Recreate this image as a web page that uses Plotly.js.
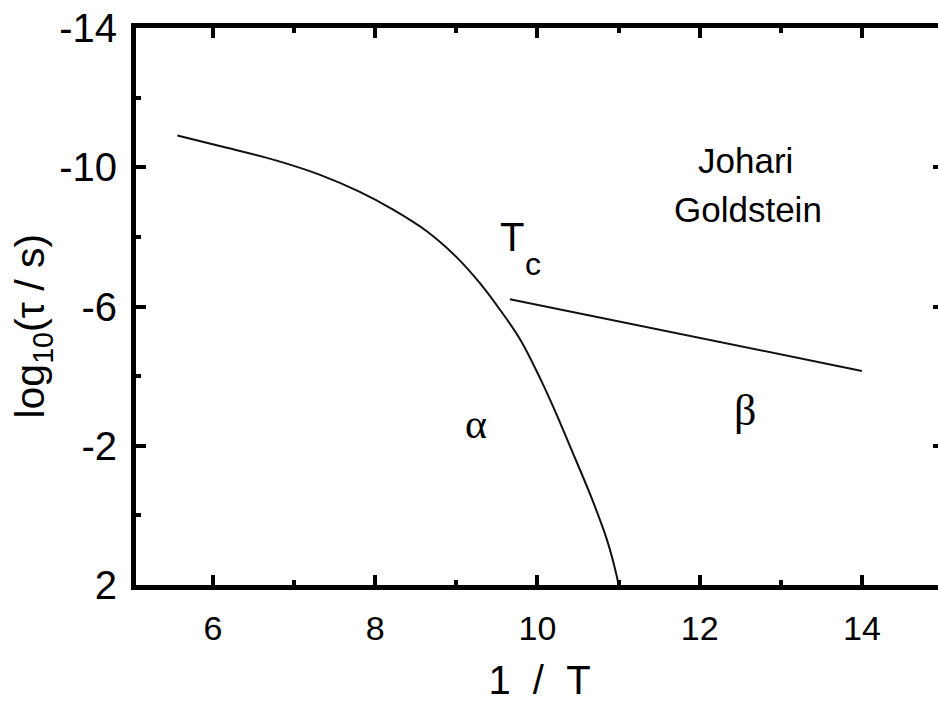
<!DOCTYPE html>
<html>
<head>
<meta charset="utf-8">
<script src="https://cdn.plot.ly/plotly-3.0.1.min.js"></script>
<style>
  html, body { margin: 0; padding: 0; overflow: hidden; background: #fff; }
  #chart { width: 946px; height: 704px; }
</style>
</head>
<body>
<div id="chart"></div>
<script>
// Alpha relaxation curve: log10(tau) versus 1/T
const alphaX = [5.56, 6.17, 6.785, 7.32, 7.81, 8.22, 8.635, 9.005, 9.29, 9.54, 9.785, 10.03, 10.22, 10.42, 10.65, 10.855, 10.98, 10.995];
const alphaY = [-10.91, -10.56, -10.19, -9.78, -9.29, -8.78, -8.16, -7.41, -6.67, -5.90, -5.06, -3.95, -2.98, -1.88, -0.60, 0.69, 1.77, 1.95];

// Johari-Goldstein beta relaxation (Arrhenius line)
const betaX = [9.66, 14.0];
const betaY = [-6.21, -4.15];

// Axis ticks
const xTickVals = [6, 8, 10, 12, 14];
const xTickText = ['6', '8', '10', '12', '14'];
const yTickVals = [-14, -10, -6, -2, 2];
const yTickText = ['-14', '-10', '-6', '-2', '2'];

const sans = 'Liberation Sans, Arial, sans-serif';
const serif = 'Liberation Serif, Times New Roman, serif';

const traces = [
  { x: alphaX, y: alphaY, mode: 'lines', line: { color: '#111', width: 2, shape: 'spline', smoothing: 1 }, hoverinfo: 'skip' },
  { x: betaX, y: betaY, mode: 'lines', line: { color: '#111', width: 2 }, hoverinfo: 'skip' }
];

const axisCommon = {
  showgrid: false,
  zeroline: false,
  showline: true,
  linecolor: '#000',
  linewidth: 5,
  mirror: 'ticks',
  ticks: 'inside',
  ticklen: 10,
  tickwidth: 4,
  tickcolor: '#000',
  tickmode: 'array'
};

const layout = {
  width: 946,
  height: 704,
  margin: { l: 136, r: 3, t: 28, b: 119 },
  paper_bgcolor: '#fff',
  plot_bgcolor: '#fff',
  showlegend: false,
  xaxis: Object.assign({}, axisCommon, {
    range: [5.05, 15.0],
    tickvals: xTickVals,
    ticktext: xTickText,
    tickfont: { family: sans, size: 34, color: '#000' },
    ticklabelstandoff: 9,
    minor: { tickmode: 'array', tickvals: [7, 9, 11, 13], ticks: 'inside', ticklen: 5, tickwidth: 4, tickcolor: '#000' },
    title: { text: '1 &nbsp;/ &nbsp;T', font: { family: sans, size: 40, color: '#000' }, standoff: 22 }
  }),
  yaxis: Object.assign({}, axisCommon, {
    range: [2, -14],
    tickvals: yTickVals,
    ticktext: yTickText,
    tickfont: { family: sans, size: 40, color: '#000' },
    ticklabelstandoff: 6,
    minor: { tickmode: 'array', tickvals: [-12, -8, -4, 0], ticks: 'inside', ticklen: 5, tickwidth: 4, tickcolor: '#000' }
  }),
  annotations: [
    // y-axis title, placed explicitly so the subscripted text stays centred on the axis
    { xref: 'paper', yref: 'paper', x: (33 - 136) / 807, y: 0.464, xanchor: 'center', yanchor: 'middle',
      textangle: -90, text: 'log<sub>10</sub>(τ / s)', showarrow: false, font: { family: sans, size: 41, color: '#000' } },
    { x: 12.57, y: -10.2, xref: 'x', yref: 'y', text: 'Johari', showarrow: false, font: { family: sans, size: 35, color: '#000' } },
    { x: 12.6, y: -8.79, xref: 'x', yref: 'y', text: 'Goldstein', showarrow: false, font: { family: sans, size: 35, color: '#000' } },
    { x: 9.687, y: -7.99, xref: 'x', yref: 'y', text: 'T', showarrow: false, font: { family: sans, size: 40, color: '#000' } },
    { x: 9.95, y: -7.22, xref: 'x', yref: 'y', text: 'c', showarrow: false, font: { family: sans, size: 32, color: '#000' } },
    { x: 9.24, y: -2.63, xref: 'x', yref: 'y', text: 'α', showarrow: false, font: { family: serif, size: 42, color: '#000' } },
    { x: 12.56, y: -3.0, xref: 'x', yref: 'y', text: 'β', showarrow: false, font: { family: serif, size: 44, color: '#000' } }
  ]
};

Plotly.newPlot('chart', traces, layout, { staticPlot: true, displayModeBar: false });
</script>
</body>
</html>
